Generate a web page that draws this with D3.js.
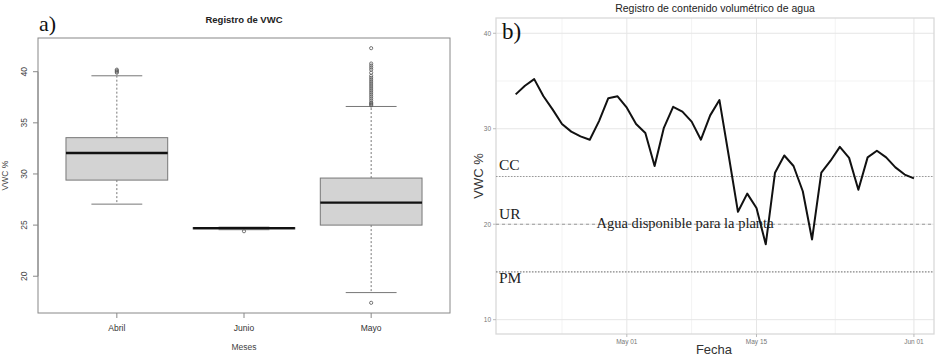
<!DOCTYPE html>
<html><head><meta charset="utf-8">
<script src="https://cdn.jsdelivr.net/npm/d3@7"></script>
<style>body{margin:0;background:#fff}svg{display:block}</style>
</head><body>
<svg id="c" width="937" height="360"></svg>
<script>
// ---------- Data: panel a (boxplots) ----------
const months = ["Abril", "Junio", "Mayo"];
const q1      = [29.4, 24.62, 25.0];
const medians = [32.05, 24.7, 27.2];
const q3      = [33.55, 24.76, 29.6];
const whiskLo = [27.05, 24.55, 18.4];
const whiskHi = [39.6, 24.8, 36.6];
const outAbril = [40.2, 40.1, 40.0, 39.9];
const outJunio = [24.4];
const outMayo  = [42.3, 40.8, 40.6, 40.4, 40.2, 39.9, 39.6, 39.4, 39.2, 39.0, 38.8, 38.6,
                  38.4, 38.2, 38.0, 37.8, 37.6, 37.4, 37.2, 37.0, 36.9, 36.8, 36.7, 17.4];
const yTicksA = [20, 25, 30, 35, 40];

// ---------- Data: panel b (daily VWC) ----------
const startDate = "2021-04-19";
const vwc = [33.6, 34.5, 35.2, 33.4, 32.0, 30.5, 29.7, 29.2, 28.85, 30.8,
             33.2, 33.4, 32.2, 30.5, 29.55, 26.1, 30.1, 32.3, 31.8, 30.75,
             28.85, 31.4, 33.0, 27.2, 21.3, 23.2, 21.7, 17.9, 25.4, 27.2,
             26.1, 23.45, 18.4, 25.4, 26.65, 28.1, 26.95, 23.6, 27.0, 27.7,
             27.0, 25.95, 25.2, 24.8];
const refLevels = [25, 20, 15];
const refLabels = ["CC", "UR", "PM"];
const yTicksB = [10, 20, 30, 40];
const yMinorB = [15, 25, 35];
const xTicksB = ["2021-05-01", "2021-05-15", "2021-06-01"];
const xTickLabelsB = ["May 01", "May 15", "Jun 01"];
const xMinorB = ["2021-04-24", "2021-05-08", "2021-05-23 12:00"];

const svg = d3.select("#c");
const sans = "Liberation Sans, Arial, sans-serif";
const serif = "Liberation Serif, Times New Roman, serif";

// ================= Panel a =================
(function(){
  const L = 38, R = 450, T = 38, B = 313;
  const allVals = [...outAbril, ...outJunio, ...outMayo, ...whiskLo, ...whiskHi];
  const lo = d3.min(allVals), hi = d3.max(allVals), ext = (hi - lo) * 0.04;
  const y = d3.scaleLinear().domain([lo - ext, hi + ext]).range([B, T]);
  const x = d3.scalePoint().domain(months).range([L, R]).padding(0.62);
  const bw = x.step() * 0.8;
  const g = svg.append("g");
  const outs = [outAbril, outJunio, outMayo];

  months.forEach((m, i) => {
    const cx = x(m);
    g.append("line").attr("x1", cx).attr("x2", cx).attr("y1", y(q3[i])).attr("y2", y(whiskHi[i]))
      .attr("stroke", "#777").attr("stroke-dasharray", "2,2").attr("stroke-width", 1);
    g.append("line").attr("x1", cx).attr("x2", cx).attr("y1", y(q1[i])).attr("y2", y(whiskLo[i]))
      .attr("stroke", "#777").attr("stroke-dasharray", "2,2").attr("stroke-width", 1);
    [whiskHi[i], whiskLo[i]].forEach(v => {
      g.append("line").attr("x1", cx - bw / 4).attr("x2", cx + bw / 4).attr("y1", y(v)).attr("y2", y(v))
        .attr("stroke", "#777").attr("stroke-width", 1);
    });
    g.append("rect").attr("x", cx - bw / 2).attr("width", bw)
      .attr("y", y(q3[i])).attr("height", Math.max(1, y(q1[i]) - y(q3[i])))
      .attr("fill", "#d3d3d3").attr("stroke", "#777").attr("stroke-width", 1);
    g.append("line").attr("x1", cx - bw / 2).attr("x2", cx + bw / 2)
      .attr("y1", y(medians[i])).attr("y2", y(medians[i]))
      .attr("stroke", "#111").attr("stroke-width", 2.4);
    g.selectAll(null).data(outs[i]).enter().append("circle")
      .attr("cx", cx).attr("cy", d => y(d)).attr("r", 1.6)
      .attr("fill", "none").attr("stroke", "#555").attr("stroke-width", 0.8);
  });

  g.append("rect").attr("x", L).attr("y", T).attr("width", R - L).attr("height", B - T)
    .attr("fill", "none").attr("stroke", "#888").attr("stroke-width", 1);

  const ya = g.append("g");
  ya.append("line").attr("x1", L).attr("x2", L).attr("y1", y(20)).attr("y2", y(40)).attr("stroke", "#888");
  yTicksA.forEach(t => {
    ya.append("line").attr("x1", L - 5).attr("x2", L).attr("y1", y(t)).attr("y2", y(t)).attr("stroke", "#888");
    ya.append("text").attr("transform", `translate(${L - 11},${y(t)}) rotate(-90)`)
      .attr("text-anchor", "middle").attr("font-family", sans).attr("font-size", 8.5)
      .attr("fill", "#444").text(t);
  });
  months.forEach(m => {
    g.append("line").attr("x1", x(m)).attr("x2", x(m)).attr("y1", B).attr("y2", B + 5).attr("stroke", "#888");
    g.append("text").attr("x", x(m)).attr("y", 331).attr("text-anchor", "middle")
      .attr("font-family", sans).attr("font-size", 8.5).attr("fill", "#333").text(m);
  });
  g.append("text").attr("x", (L + R) / 2).attr("y", 350).attr("text-anchor", "middle")
    .attr("font-family", sans).attr("font-size", 8.5).attr("fill", "#444").text("Meses");
  g.append("text").attr("transform", `translate(8,${(T + B) / 2}) rotate(-90)`)
    .attr("text-anchor", "middle").attr("font-family", sans).attr("font-size", 8.5)
    .attr("fill", "#444").text("VWC %");
  g.append("text").attr("x", 244).attr("y", 23).attr("text-anchor", "middle")
    .attr("font-family", sans).attr("font-size", 9.5).attr("font-weight", "bold")
    .attr("fill", "#222").text("Registro de VWC");
  g.append("text").attr("x", 39).attr("y", 31).attr("font-family", serif)
    .attr("font-size", 22).attr("fill", "#111").text("a)");
})();

// ================= Panel b =================
(function(){
  const L = 496, R = 934, T = 18, B = 334;
  const parse = d3.timeParse("%Y-%m-%d");
  const parseMinor = s => d3.timeParse("%Y-%m-%d %H:%M")(s) || parse(s);
  const d0 = parse(startDate);
  const data = vwc.map((v, i) => ({ date: d3.timeDay.offset(d0, i), v }));
  const x = d3.scaleTime()
    .domain([d3.timeHour.offset(d0, -2.1 * 24), d3.timeHour.offset(data[data.length - 1].date, 2.2 * 24)])
    .range([L, R]);
  const y = d3.scaleLinear().domain([8.5, 41.6]).range([B, T]);
  const g = svg.append("g");

  yMinorB.forEach(t => g.append("line").attr("x1", L).attr("x2", R).attr("y1", y(t)).attr("y2", y(t))
    .attr("stroke", "#f3f3f3").attr("stroke-width", 1));
  xMinorB.forEach(t => g.append("line").attr("x1", x(parseMinor(t))).attr("x2", x(parseMinor(t)))
    .attr("y1", T).attr("y2", B).attr("stroke", "#f3f3f3").attr("stroke-width", 1));
  yTicksB.forEach(t => g.append("line").attr("x1", L).attr("x2", R).attr("y1", y(t)).attr("y2", y(t))
    .attr("stroke", "#e6e6e6").attr("stroke-width", 1));
  xTicksB.forEach(t => g.append("line").attr("x1", x(parse(t))).attr("x2", x(parse(t)))
    .attr("y1", T).attr("y2", B).attr("stroke", "#e6e6e6").attr("stroke-width", 1));
  g.append("rect").attr("x", L).attr("y", T).attr("width", R - L).attr("height", B - T)
    .attr("fill", "none").attr("stroke", "#d9d9d9").attr("stroke-width", 1.3);

  yTicksB.forEach(t => {
    g.append("line").attr("x1", L - 3).attr("x2", L).attr("y1", y(t)).attr("y2", y(t)).attr("stroke", "#bbb");
    g.append("text").attr("x", L - 5).attr("y", y(t) + 2.5).attr("text-anchor", "end")
      .attr("font-family", sans).attr("font-size", 6.5).attr("fill", "#777").text(t);
  });
  xTicksB.forEach((t, i) => {
    g.append("line").attr("x1", x(parse(t))).attr("x2", x(parse(t))).attr("y1", B).attr("y2", B + 3).attr("stroke", "#bbb");
    g.append("text").attr("x", x(parse(t))).attr("y", B + 10).attr("text-anchor", "middle")
      .attr("font-family", sans).attr("font-size", 6.5).attr("fill", "#777").text(xTickLabelsB[i]);
  });

  const refStyle = [
    { dash: "1.5,1.5", color: "#999", w: 1.2 },
    { dash: "3,3", color: "#999", w: 1.1 },
    { dash: "1.5,1.5", color: "#888", w: 1.2 }
  ];
  refLevels.forEach((lv, i) => {
    g.append("line").attr("x1", L).attr("x2", R).attr("y1", y(lv)).attr("y2", y(lv))
      .attr("stroke", refStyle[i].color).attr("stroke-width", refStyle[i].w)
      .attr("stroke-dasharray", refStyle[i].dash);
  });

  g.append("path").datum(data)
    .attr("d", d3.line().x(d => x(d.date)).y(d => y(d.v)))
    .attr("fill", "none").attr("stroke", "#111").attr("stroke-width", 2)
    .attr("stroke-linejoin", "round");

  const labOff = [-6, -5, 11];
  refLevels.forEach((lv, i) => {
    g.append("text").attr("x", 499).attr("y", y(lv) + labOff[i]).attr("font-family", serif)
      .attr("font-size", 15.5).attr("fill", "#222").text(refLabels[i]);
  });
  g.append("text").attr("x", 685).attr("y", y(20) + 4).attr("text-anchor", "middle")
    .attr("font-family", serif).attr("font-size", 14.5).attr("fill", "#222")
    .text("Agua disponible para la planta");
  g.append("text").attr("x", 502).attr("y", 39).attr("font-family", serif)
    .attr("font-size", 23).attr("fill", "#111").text("b)");

  g.append("text").attr("x", 715).attr("y", 12).attr("text-anchor", "middle")
    .attr("font-family", sans).attr("font-size", 10.5).attr("fill", "#222")
    .text("Registro de contenido volumétrico de agua");
  g.append("text").attr("x", 714).attr("y", 354).attr("text-anchor", "middle")
    .attr("font-family", sans).attr("font-size", 13).attr("fill", "#333").text("Fecha");
  g.append("text").attr("transform", `translate(483,${(T + B) / 2}) rotate(-90)`)
    .attr("text-anchor", "middle").attr("font-family", sans).attr("font-size", 13)
    .attr("fill", "#333").text("VWC %");
})();
</script>
</body></html>
